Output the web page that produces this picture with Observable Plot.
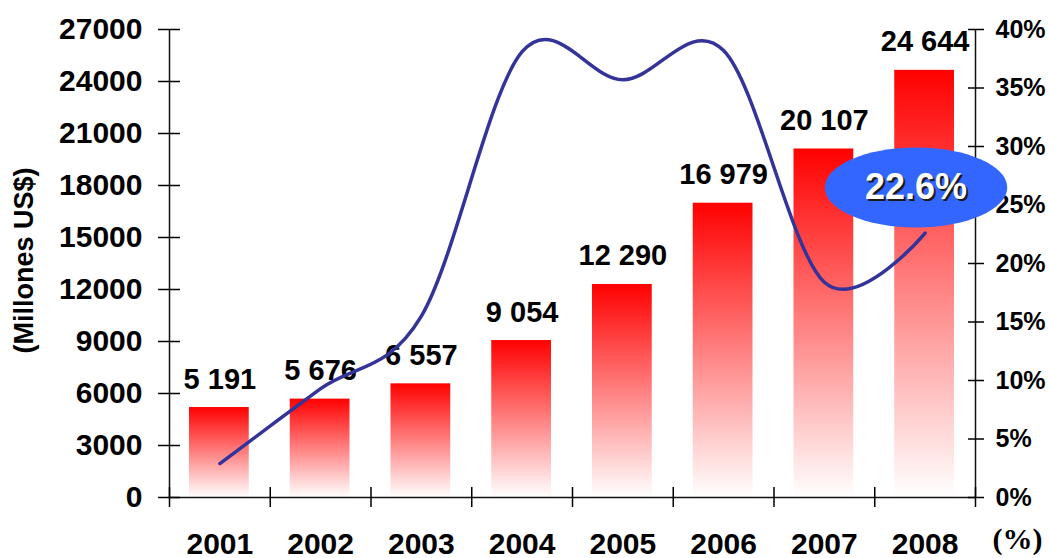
<!DOCTYPE html>
<html><head><meta charset="utf-8">
<script src="https://cdn.jsdelivr.net/npm/d3@7"></script>
<script src="https://cdn.jsdelivr.net/npm/@observablehq/plot@0.6"></script>
<style>html,body{margin:0;padding:0;background:#fff;overflow:hidden}</style>
</head><body><div id="chart"></div>
<script>
// ---- data ----
const years = ["2001", "2002", "2003", "2004", "2005", "2006", "2007", "2008"];
const exportsMUS = [5191, 5676, 6557, 9054, 12290, 16979, 20107, 24644];
const growthPct = [2.9, 9.3, 15.5, 38.1, 35.7, 38.2, 18.4, 22.6];
const leftTicks = [0, 3000, 6000, 9000, 12000, 15000, 18000, 21000, 24000, 27000];
const rightTicks = [0, 5, 10, 15, 20, 25, 30, 35, 40];
const calloutText = "22.6%";

const yMax = 27000, pMax = 40;
const toY = p => p / pMax * yMax;
const rows = years.map((year, i) => ({i, year, value: exportsMUS[i], growth: growthPct[i]}));
const fmt = v => d3.format(",")(v).replace(/,/g, " ");
const callout = [{x: 7.41, y: toY(26.5), text: calloutText}];
const noLabel = () => "";

const ellipseSymbol = {
  draw(ctx, size) {
    const r = Math.sqrt(size / Math.PI), rx = r * 2.28, ry = r, k = 0.5523;
    ctx.moveTo(rx, 0);
    ctx.bezierCurveTo(rx, k * ry, k * rx, ry, 0, ry);
    ctx.bezierCurveTo(-k * rx, ry, -rx, k * ry, -rx, 0);
    ctx.bezierCurveTo(-rx, -k * ry, -k * rx, -ry, 0, -ry);
    ctx.bezierCurveTo(k * rx, -ry, rx, -k * ry, rx, 0);
    ctx.closePath();
  }
};

const defs = () => {
  const d = d3.create("svg:defs");
  const g = d.append("linearGradient").attr("id", "barGrad")
    .attr("x1", 0).attr("y1", 0).attr("x2", 0).attr("y2", 1);
  g.append("stop").attr("offset", "0%").attr("stop-color", "#ff0000");
  g.append("stop").attr("offset", "100%").attr("stop-color", "#ffffff");
  return d.node();
};

const bold = {fontWeight: "bold"};
const axisStroke = {stroke: "#111", strokeWidth: 1.5};

const chart = Plot.plot({
  width: 1049, height: 558,
  marginLeft: 169, marginRight: 74, marginTop: 29, marginBottom: 61,
  style: {fontFamily: "'Liberation Sans', Arial, sans-serif", background: "#fff", color: "#000", overflow: "visible"},
  x: {type: "linear", domain: [0, 8], axis: null},
  y: {domain: [0, yMax], axis: null},
  marks: [
    defs,
    Plot.rectY(rows, {x1: "i", x2: d => d.i + 1, y: "value", insetLeft: 20, insetRight: 21, fill: "url(#barGrad)"}),
    Plot.text(rows, {x: d => d.i + 0.5, y: "value", text: d => fmt(d.value), dy: -19, lineAnchor: "bottom", fontSize: 29, ...bold, fill: "#000"}),
    Plot.line(rows, {x: d => d.i + 0.5, y: d => toY(d.growth), stroke: "#333399", strokeWidth: 3.5, curve: "cardinal"}),
    // axis lines
    Plot.ruleY([0], axisStroke),
    Plot.ruleX([0, 8], axisStroke),
    // left axis (cross ticks)
    Plot.axisY({anchor: "left", ticks: leftTicks, tickSize: 11, tickPadding: 16, tickFormat: d => String(d), fontSize: 30, ...bold, label: null, strokeWidth: 1.5}),
    Plot.axisY({anchor: "left", ticks: leftTicks, tickSize: 11, dx: 11, tickFormat: noLabel, label: null, strokeWidth: 1.5}),
    // right axis (%)
    Plot.axisY({anchor: "right", ticks: rightTicks.map(toY), tickSize: 8, tickPadding: 12, tickFormat: d => Math.round(d / yMax * pMax) + "%", fontSize: 25, ...bold, label: null, strokeWidth: 1.5}),
    Plot.axisY({anchor: "right", ticks: rightTicks.map(toY), tickSize: 8, dx: -8, tickFormat: noLabel, label: null, strokeWidth: 1.5}),
    // bottom axis: boundary ticks + year labels
    Plot.axisX({ticks: d3.range(0, 9), tickSize: 10, tickFormat: noLabel, label: null, strokeWidth: 1.5}),
    Plot.axisX({ticks: d3.range(0, 9), tickSize: 10, dy: -10, tickFormat: noLabel, label: null, strokeWidth: 1.5}),
    Plot.axisX({ticks: rows.map(d => d.i + 0.5), tickSize: 0, tickPadding: 35, tickFormat: d => years[Math.floor(d)], fontSize: 30, ...bold, label: null}),
    // axis titles
    Plot.text(["(Millones US$)"], {frameAnchor: "left", text: d => d, rotate: -90, dx: -145, dy: -3, fontSize: 27, ...bold, textAnchor: "middle", lineAnchor: "middle"}),
    Plot.text(["(%)"], {frameAnchor: "bottom-right", text: d => d, dx: 42, dy: 42, fontSize: 30, ...bold, fontFamily: "'Liberation Serif', 'Times New Roman', serif", textAnchor: "middle", lineAnchor: "middle"}),
    // callout
    Plot.dot(callout, {x: "x", y: "y", r: 40, symbol: ellipseSymbol, fill: "#3366ff", stroke: "none"}),
    Plot.text(callout, {x: "x", y: "y", text: "text", dx: 2, dy: 2, fontSize: 36, ...bold, fill: "#1a1a1a", lineAnchor: "middle"}),
    Plot.text(callout, {x: "x", y: "y", text: "text", fontSize: 36, ...bold, fill: "#ffffff", lineAnchor: "middle"})
  ]
});
document.getElementById("chart").appendChild(chart);
</script>
</body></html>
